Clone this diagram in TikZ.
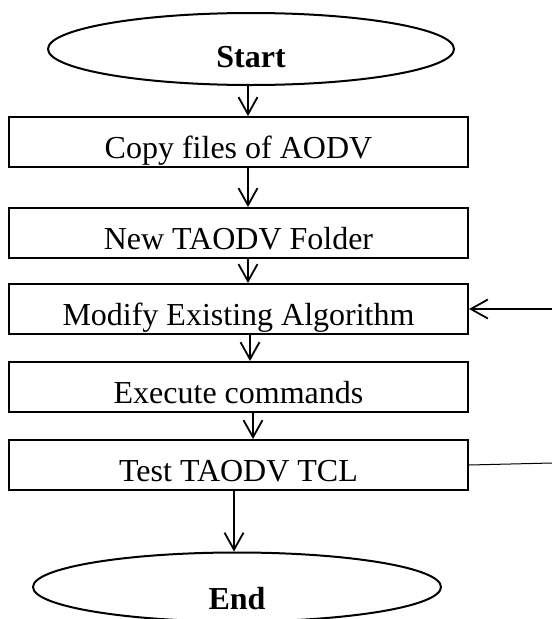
\documentclass[tikz,border=0pt]{standalone}
\usepackage{fontspec}
\setmainfont{Liberation Serif}
\usetikzlibrary{arrows.meta,shapes.geometric}

\begin{document}
\begin{tikzpicture}[x=1pt,y=1pt,>={Straight Barb[length=17pt,width=19pt]},
  procbox/.style={draw,line width=2pt,minimum width=459pt,minimum height=50pt,
    inner sep=0pt,text height=41pt,text depth=9pt,font=\fontsize{32}{37}\selectfont},
  termnode/.style={draw,ellipse,line width=2pt,inner sep=0pt,
    font=\fontsize{32}{37}\selectfont\bfseries},
  flow/.style={->,line width=1.8pt}]
  \useasboundingbox (0,0) rectangle (552,-619);
  % terminals
  \node[termnode,minimum width=406pt,minimum height=72pt,text height=40pt,text depth=4pt] (start) at (251,-49) {Start};
  \node[termnode,minimum width=408pt,minimum height=69pt,text height=46pt,text depth=2pt] (end) at (237,-587) {End};
  % steps
  \node[procbox] (copy) at (238.5,-142) {Copy files of AODV};
  \node[procbox] (folder) at (238.5,-233) {New TAODV Folder};
  \node[procbox] (modify) at (238.5,-309) {Modify Existing Algorithm};
  \node[procbox] (exec) at (238.5,-387) {Execute commands};
  \node[procbox] (test) at (238.5,-465) {Test TAODV TCL};
  \coordinate (back) at (552,-309);  % loop comes in here
  \coordinate (loop) at (552,-463);
  \draw[flow] ([xshift=-3pt]start.south) -- ([xshift=9.5pt]copy.north);
  \draw[flow] ([xshift=9.5pt]copy.south) -- ([xshift=9.5pt]folder.north);
  \draw[flow] ([xshift=9.5pt]folder.south) -- ([xshift=9.5pt]modify.north);
  \draw[flow] ([xshift=11.5pt]modify.south) -- ([xshift=11.5pt]exec.north);
  \draw[flow] ([xshift=14.5pt]exec.south) -- ([xshift=14.5pt]test.north);
  \draw[flow] ([xshift=-4.5pt]test.south) -- ([xshift=-3pt]end.north);
  \draw[flow] (back) -- (modify.east);
  \draw[line width=1pt] (test.east) -- (loop);
\end{tikzpicture}
\end{document}
